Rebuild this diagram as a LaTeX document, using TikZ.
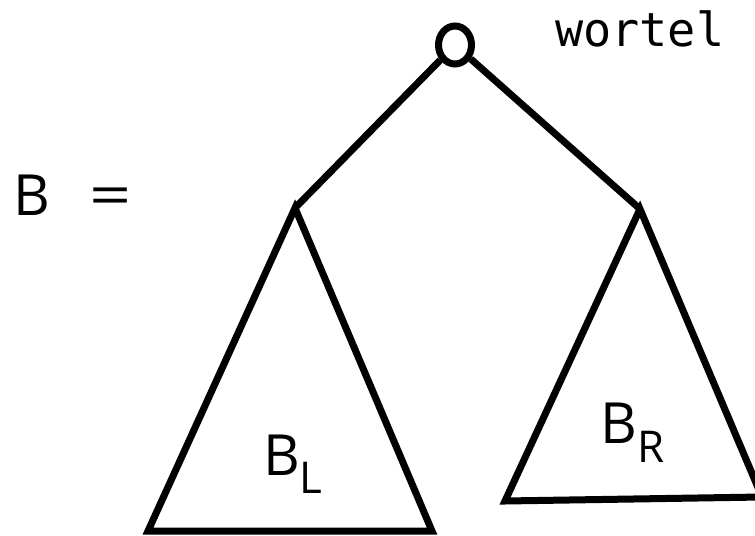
\documentclass[tikz,border=0pt]{standalone}
\usepackage{fontspec}
\usetikzlibrary{shapes.geometric}
\setmainfont{Open Sans}
\newfontfamily\monofont{DejaVu Sans Mono}
\begin{document}
\begin{tikzpicture}[x=1bp,y=-1bp,
  edge/.style={line width=7bp, line join=miter, line cap=butt},
  lbl/.style={inner sep=0pt, anchor=base west, font=\fontsize{57}{57}\selectfont}]
\useasboundingbox (0,0) rectangle (755,536);
\clip (0,0) rectangle (755,536);
\node[ellipse, draw, line width=7bp, minimum width=33bp, minimum height=38bp, inner sep=0pt] (root) at (455,45) {};
\coordinate (la) at (295,208);
\coordinate (ra) at (640,209);
\coordinate (lbl) at (148,531);
\coordinate (lbr) at (432,531);
\coordinate (rbl) at (505,501);
\coordinate (rbr) at (762,497);
\draw[edge] (root) -- (la);
\draw[edge] (root) -- (ra);
\draw[edge] (la) -- (lbl) -- (lbr) -- cycle;
\draw[edge] (ra) -- (rbl) -- (rbr) -- cycle;
\node[inner sep=0pt, anchor=base west, font=\monofont\fontsize{47}{47}\selectfont] (w) at (555,47) {wortel};
\node[lbl] (B) at (13,216) {B\hspace{40bp}\scalebox{1.3}[1]{=}};
\node[lbl] (BL) at (263,475) {B\raisebox{-18bp}{\fontsize{44}{44}\selectfont L}};
\node[lbl] (BR) at (600,443) {B\raisebox{-19bp}{\fontsize{44}{44}\selectfont R}};
\end{tikzpicture}
\end{document}
